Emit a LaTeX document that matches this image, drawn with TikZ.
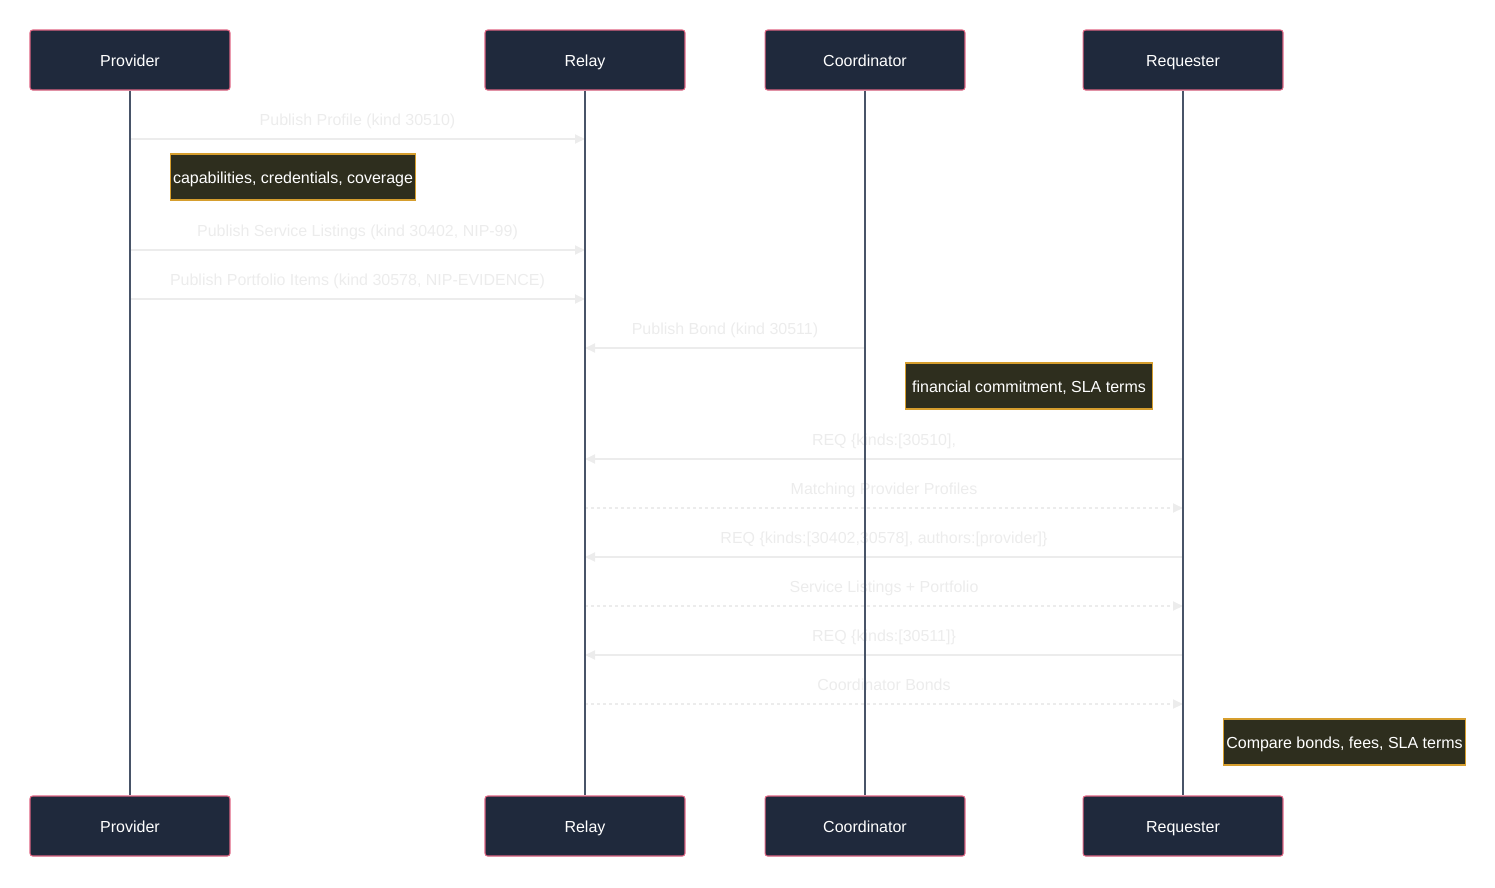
\documentclass[tikz,border=0pt]{standalone}
\usepackage{fontspec}
\setmainfont{Liberation Sans}
\usetikzlibrary{arrows.meta}
\definecolor{actorfill}{RGB}{31,41,60}
\definecolor{actorline}{RGB}{222,100,130}
\definecolor{lifecol}{RGB}{72,84,104}
\definecolor{notefill}{RGB}{46,46,30}
\definecolor{noteline}{RGB}{214,158,46}
\definecolor{msgcol}{RGB}{236,236,236}

\tikzset{
  seqfont/.style={font=\fontsize{9.1}{11}\selectfont,text height=0.72em,text depth=0pt},
  actorbox/.style={seqfont,draw=actorline,fill=actorfill,text=white,line width=0.6pt,
    rounded corners=1.5pt,minimum width=4cm,minimum height=1.2cm},
  notebox/.style={seqfont,draw=noteline,fill=notefill,text=white,line width=0.6pt,
    minimum height=0.92cm,inner xsep=0.05cm,anchor=west},
  lifeline/.style={draw=lifecol,line width=1.1pt},
  msg/.style={draw=msgcol,line width=1.1pt,-{Triangle[length=0.2cm,width=0.18cm]}},
  reply/.style={msg,dash pattern=on 0.06cm off 0.06cm},
  msglabel/.style={seqfont,midway,yshift=0.4cm,text=msgcol}
}

\begin{document}
\begin{tikzpicture}[x=0.02cm,y=-0.02cm]
\useasboundingbox (0,0) rectangle (1495,887);

% actors, top and bottom
\node[actorbox] (provTop)  at (130,60)  {Provider};
\node[actorbox] (relayTop) at (585,60)  {Relay};
\node[actorbox] (coordTop) at (865,60)  {Coordinator};
\node[actorbox] (reqTop)   at (1183,60) {Requester};
\node[actorbox] (provBot)  at (130,826)  {Provider};
\node[actorbox] (relayBot) at (585,826)  {Relay};
\node[actorbox] (coordBot) at (865,826)  {Coordinator};
\node[actorbox] (reqBot)   at (1183,826) {Requester};

% message rows
\coordinate (m1) at (0,139);
\coordinate (m2) at (0,250);
\coordinate (m3) at (0,299);
\coordinate (m4) at (0,348);
\coordinate (m5) at (0,459);
\coordinate (m6) at (0,508);
\coordinate (m7) at (0,557);
\coordinate (m8) at (0,606);
\coordinate (m9) at (0,655);
\coordinate (m10) at (0,704);

\draw[msg] (provTop |- m1) -- (relayTop |- m1)
  node[msglabel] {Publish Profile (kind 30510)};
\node[notebox,minimum width=4.9cm] (noteCap) at (170,177) {capabilities, credentials, coverage};
\draw[msg] (provTop |- m2) -- (relayTop |- m2)
  node[msglabel] {Publish Service Listings (kind 30402, NIP-99)};
\draw[msg] (provTop |- m3) -- (relayTop |- m3)
  node[msglabel] {Publish Portfolio Items (kind 30578, NIP-EVIDENCE)};
\draw[msg] (coordTop |- m4) -- (relayTop |- m4)
  node[msglabel] {Publish Bond (kind 30511)};
\node[notebox,minimum width=4.94cm] (noteBond) at (905,386) {financial commitment, SLA terms};
\draw[msg] (reqTop |- m5) -- (relayTop |- m5)
  node[msglabel] {REQ \{kinds:[30510],};
\draw[reply] (relayTop |- m6) -- (reqTop |- m6)
  node[msglabel] {Matching Provider Profiles};
\draw[msg] (reqTop |- m7) -- (relayTop |- m7)
  node[msglabel] {REQ \{kinds:[30402,30578], authors:[provider]\}};
\draw[reply] (relayTop |- m8) -- (reqTop |- m8)
  node[msglabel] {Service Listings + Portfolio};
\draw[msg] (reqTop |- m9) -- (relayTop |- m9)
  node[msglabel] {REQ \{kinds:[30511]\}};
\draw[reply] (relayTop |- m10) -- (reqTop |- m10)
  node[msglabel] {Coordinator Bonds};
\node[notebox,minimum width=4.84cm] (noteCmp) at (1223,742) {Compare bonds, fees, SLA terms};

% lifelines
\draw[lifeline] (provTop) -- (provBot);
\draw[lifeline] (relayTop) -- (relayBot);
\draw[lifeline] (coordTop) -- (coordBot);
\draw[lifeline] (reqTop) -- (reqBot);
\end{tikzpicture}
\end{document}
